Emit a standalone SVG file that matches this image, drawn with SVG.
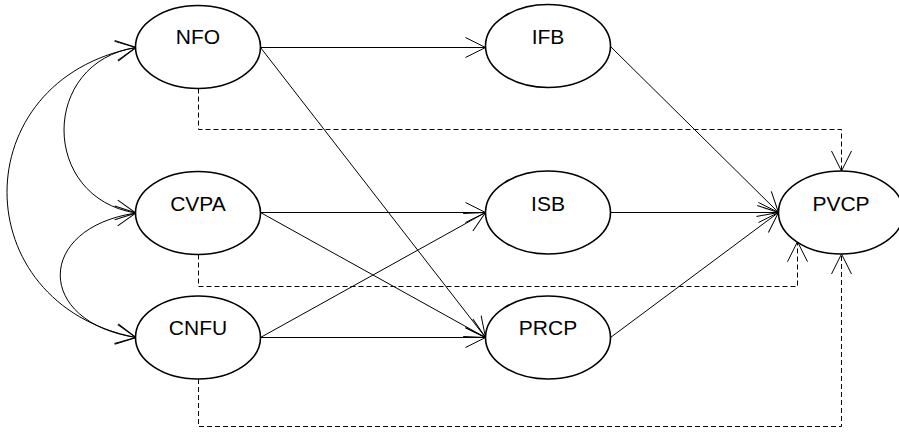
<svg xmlns="http://www.w3.org/2000/svg" width="899" height="433" viewBox="0 0 899 433">
<style>
.node ellipse{fill:#fff;stroke:#000;stroke-width:1.6}
.node text{font-family:"Liberation Sans",Arial,sans-serif;font-size:21px;text-anchor:middle;fill:#000}
.e{fill:none;stroke:#000;stroke-width:1;marker-end:url(#a)}
.d{stroke-dasharray:5,3}
.c{marker-start:url(#a)}
</style>
<defs>
<marker id="a" viewBox="-22 -12 24 24" refX="0" refY="0" markerWidth="24" markerHeight="24" orient="auto-start-reverse" markerUnits="userSpaceOnUse">
<path d="M-20,-10 L0,0 L-20,10" fill="none" stroke="#000" stroke-width="1" stroke-dasharray="none"/>
</marker>
</defs>
<rect width="899" height="433" fill="#fff"/>
<g id="connectors">
<path class="e c" d="M136,47.5 C40,62 40,198 136,213"/>
<path class="e c" d="M136,213 C35,228 35,322 136,337.5"/>
<path class="e c" d="M136,47.5 C-36,80 -36,304 136,337.5"/>
<path class="e" d="M260.5,47.5 H485.5"/>
<path class="e" d="M260.5,47.5 L485.5,337.5"/>
<path class="e" d="M260.5,212.5 H485.5"/>
<path class="e" d="M260.5,212.5 L485.5,337.5"/>
<path class="e" d="M260.5,337.5 L485.5,212.5"/>
<path class="e" d="M260.5,337.5 H485.5"/>
<path class="e" d="M610.5,46.5 L778.5,212.5"/>
<path class="e" d="M610.5,212.5 H778.5"/>
<path class="e" d="M610.5,337.5 L778.5,212.5"/>
<path class="e d" d="M198.5,88.5 V129.5 H841.5 V171"/>
<path class="e d" d="M198.5,254.5 V286.5 H797.5 V241.7"/>
<path class="e d" d="M198.5,379 V426.5 H841.5 V254"/>
</g>
<g id="NFO" class="node"><ellipse cx="198" cy="47" rx="62.5" ry="41.5"/><text x="198" y="44">NFO</text></g>
<g id="CVPA" class="node"><ellipse cx="198" cy="213" rx="62.5" ry="41.5"/><text x="198" y="210.5">CVPA</text></g>
<g id="CNFU" class="node"><ellipse cx="198" cy="337.5" rx="62.5" ry="41.5"/><text x="198" y="335">CNFU</text></g>
<g id="IFB" class="node"><ellipse cx="548" cy="46" rx="62.5" ry="41.5"/><text x="548" y="44">IFB</text></g>
<g id="ISB" class="node"><ellipse cx="548" cy="212.5" rx="62.5" ry="41.5"/><text x="548" y="210.5">ISB</text></g>
<g id="PRCP" class="node"><ellipse cx="548" cy="337.5" rx="62.5" ry="41.5"/><text x="548" y="335">PRCP</text></g>
<g id="PVCP" class="node"><ellipse cx="841" cy="212.5" rx="62.5" ry="41.5"/><text x="841" y="210.5">PVCP</text></g>
</svg>
